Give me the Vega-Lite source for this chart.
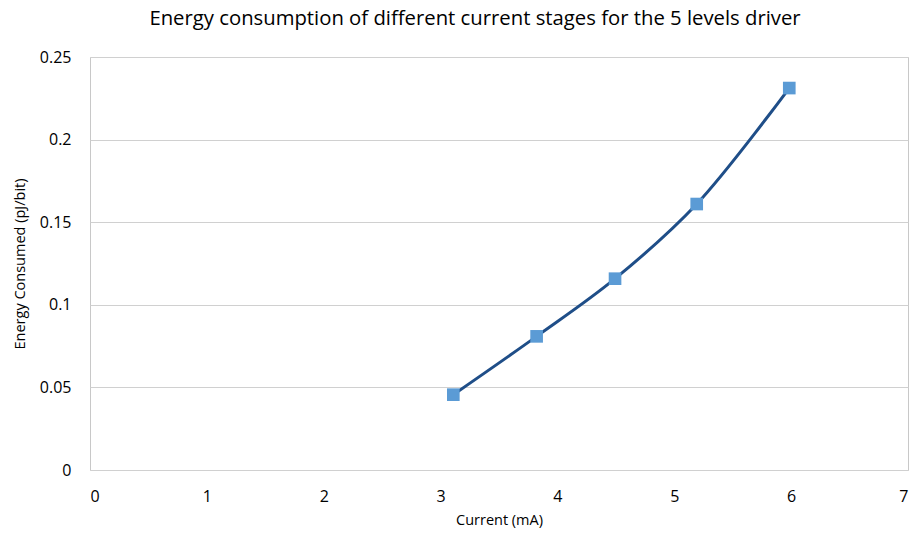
{
  "$schema": "https://vega.github.io/schema/vega-lite/v6.json",
  "width": 818,
  "height": 413,
  "autosize": {"type": "none"},
  "padding": {"left": 90, "top": 57, "right": 4, "bottom": 66},
  "background": "white",
  "title": {
    "text": "Energy consumption of different current stages for the 5 levels driver",
    "font": "Open Sans",
    "fontSize": 20.3,
    "fontWeight": "normal",
    "color": "#000000",
    "anchor": "middle",
    "dx": -24,
    "offset": 20
  },
  "config": {
    "view": {"stroke": "#c8c8c8", "strokeWidth": 1},
    "axis": {
      "labelFont": "Open Sans",
      "titleFont": "Open Sans",
      "labelColor": "#000000",
      "titleColor": "#000000",
      "labelFontSize": 16,
      "titleFontSize": 14.5,
      "titleFontWeight": "normal",
      "ticks": false,
      "domain": false
    }
  },
  "data": {
    "values": [
      {"current": 3.109, "energy": 0.0456},
      {"current": 3.822, "energy": 0.0809},
      {"current": 4.493, "energy": 0.1158},
      {"current": 5.192, "energy": 0.161},
      {"current": 5.984, "energy": 0.2312}
    ]
  },
  "encoding": {
    "x": {
      "field": "current",
      "type": "quantitative",
      "scale": {"domain": [0, 7], "nice": false},
      "axis": {"title": "Current (mA)", "values": [0,1,2,3,4,5,6,7], "grid": false, "labelPadding": 18, "titlePadding": 9}
    },
    "y": {
      "field": "energy",
      "type": "quantitative",
      "scale": {"domain": [0, 0.25], "nice": false},
      "axis": {"title": "Energy Consumed (pJ/bit)", "values": [0,0.05,0.1,0.15,0.2,0.25], "format": "~g", "grid": true, "gridColor": "#d0d0d0", "gridWidth": 1, "labelPadding": 19, "titlePadding": 12}
    }
  },
  "layer": [
    {"mark": {"type": "line", "interpolate": "catmull-rom", "color": "#1f4e88", "strokeWidth": 3}},
    {"mark": {"type": "point", "shape": "square", "filled": true, "color": "#5b9bd5", "opacity": 1, "size": 160}}
  ]
}
